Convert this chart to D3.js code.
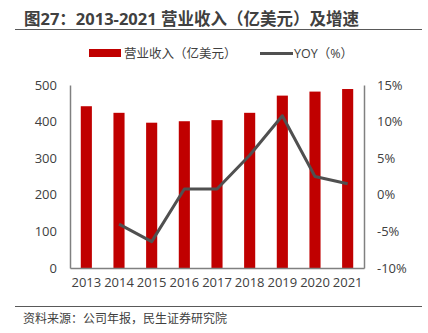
<!DOCTYPE html>
<html><head><meta charset="utf-8">
<script src="https://cdn.jsdelivr.net/npm/d3@7"></script>
<style>body{margin:0;background:#fff}svg{display:block;font-family:"Open Sans","Noto Sans CJK SC",sans-serif}</style>
</head><body><svg id="c" width="428" height="333"></svg>
<script>
const years = ["2013","2014","2015","2016","2017","2018","2019","2020","2021"];
const revenue = [442, 424, 397, 401, 404, 424, 471, 482, 489];
const yoy = [null, -4.0, -6.4, 0.8, 0.8, 5.4, 10.8, 2.5, 1.5];
const leftTicks = [0, 100, 200, 300, 400, 500];
const rightTicks = [-10, -5, 0, 5, 10, 15];
const titleText = "图27：2013-2021 营业收入（亿美元）及增速";
const sourceText = "资料来源：公司年报，民生证券研究院";
const legendBar = "营业收入（亿美元）";
const legendLine = "YOY（%）";

const svg = d3.select("#c");
const L = 70, R = 364, T = 85, B = 268;
const x = d3.scaleBand().domain(years).range([L, R]).paddingInner(0.66).paddingOuter(0.33);
const yL = d3.scaleLinear().domain([0, 500]).range([B, T]);
const yR = d3.scaleLinear().domain([-10, 15]).range([B, T]);

// title
svg.append("text").attr("x", 24).attr("y", 25).attr("font-size", 16.5).attr("font-weight", "bold")
  .attr("fill", "#404040").text(titleText);
svg.append("line").attr("x1", 15).attr("x2", 422).attr("y1", 29.5).attr("y2", 29.5)
  .attr("stroke", "#595959").attr("stroke-width", 1);

// legend
svg.append("rect").attr("x", 89).attr("y", 49).attr("width", 32).attr("height", 8).attr("fill", "#C00000");
svg.append("text").attr("x", 124).attr("y", 58).attr("font-size", 12.5).attr("fill", "#404040").text(legendBar);
svg.append("line").attr("x1", 260).attr("x2", 293).attr("y1", 53.5).attr("y2", 53.5)
  .attr("stroke", "#505050").attr("stroke-width", 3);
svg.append("text").attr("x", 294).attr("y", 58).attr("font-size", 12.5).attr("fill", "#404040").text(legendLine);

// bars
svg.append("g").selectAll("rect").data(revenue).join("rect")
  .attr("x", (d, i) => x(years[i])).attr("width", x.bandwidth())
  .attr("y", d => yL(d)).attr("height", d => B - yL(d)).attr("fill", "#C00000");

// axes
const axL = svg.append("g").attr("transform", `translate(${L},0)`)
  .call(d3.axisLeft(yL).tickValues(leftTicks).tickSize(0).tickPadding(13));
const axR = svg.append("g").attr("transform", `translate(${R},0)`)
  .call(d3.axisRight(yR).tickValues(rightTicks).tickSize(0).tickPadding(13).tickFormat(d => d + "%"));
const axB = svg.append("g").attr("transform", `translate(0,${B})`)
  .call(d3.axisBottom(x).tickSize(0).tickPadding(10));
[axL, axR, axB].forEach(g => {
  g.select(".domain").attr("stroke", "#808080").attr("stroke-width", 1.5);
  g.selectAll("text").attr("font-size", 13).attr("fill", "#404040")
    .attr("font-family", '"Open Sans","Noto Sans",sans-serif');
});

// line
const line = d3.line().defined(d => d != null)
  .x((d, i) => x(years[i]) + x.bandwidth() / 2).y(d => yR(d));
svg.append("path").datum(yoy).attr("d", line).attr("fill", "none")
  .attr("stroke", "#505050").attr("stroke-width", 3).attr("stroke-linejoin", "round");

// footer
svg.append("line").attr("x1", 15).attr("x2", 422).attr("y1", 306.5).attr("y2", 306.5)
  .attr("stroke", "#595959").attr("stroke-width", 1);
svg.append("text").attr("x", 23).attr("y", 323).attr("font-size", 12).attr("fill", "#404040").text(sourceText);
</script></body></html>
